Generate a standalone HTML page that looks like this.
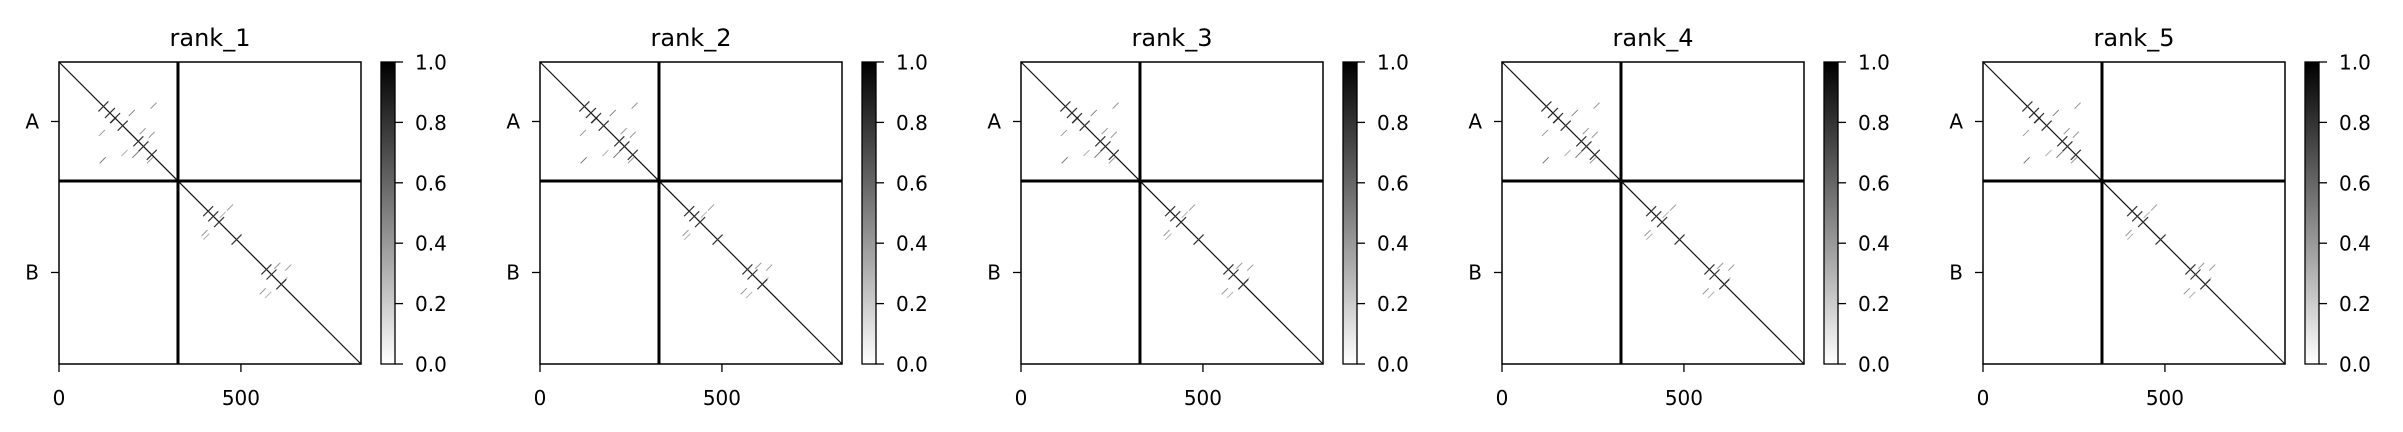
<!DOCTYPE html>
<html><head><meta charset="utf-8"><style>
html,body{margin:0;padding:0;background:#fff;}
svg{display:block;font-family:"DejaVu Sans","Liberation Sans",sans-serif;}
</style></head><body>
<svg id="fig" width="2403" height="432" viewBox="0 0 2403 432" xmlns="http://www.w3.org/2000/svg">
<defs><linearGradient id="cb" x1="0" y1="1" x2="0" y2="0"><stop offset="0" stop-color="#fff"/><stop offset="1" stop-color="#000"/></linearGradient></defs>
</svg>
<script>
const titles = ["rank_1","rank_2","rank_3","rank_4","rank_5"];
const seqLen = 830;
const chainSplit = 327;
const chainLabels = ["A","B"];
const xTicks = [0,500];
const cbTicks = [0.0,0.2,0.4,0.6,0.8,1.0];
const crossPos = [122,140,154,175,218,232,255,410,424,440,488,570,584,611];
const offContacts = [[118,195,0.4],[150,160,0.5],[200,140,0.5],[255,200,0.4],[210,255,0.5],[250,270,0.4],[120,270,0.5],[260,120,0.4],[180,250,0.3],[230,190,0.4],[400,470,0.4],[470,400,0.4],[405,480,0.3],[450,420,0.3],[560,630,0.4],[630,565,0.4],[600,560,0.4],[575,640,0.3],[620,600,0.3]];

const NS="http://www.w3.org/2000/svg";
const svg=document.getElementById('fig');
function mk(tag,attrs,parent){const e=document.createElementNS(NS,tag);for(const k in attrs)e.setAttribute(k,attrs[k]);(parent||svg).appendChild(e);return e;}
const AX0=59, AY0=62, AW=302, AH=302, STEP=481, CBX=381, CBW=14;

titles.forEach((t,i)=>{
  const ox=AX0+i*STEP;
  const xs=v=>ox+v/seqLen*AW;
  const ys=v=>AY0+v/seqLen*AH;
  const g=mk('g',{});
  
  
  const ti=mk('text',{x:ox+AW/2,y:46,'font-size':24,'text-anchor':'middle',fill:'#000'},g);
  ti.textContent=t;
  
  
  const hm=mk('g',{},g);
  
  
  mk('rect',{x:ox,y:AY0,width:AW,height:AH,fill:'#fff'},hm);
  mk('line',{x1:xs(0),y1:ys(0),x2:xs(seqLen),y2:ys(seqLen),stroke:'#111','stroke-width':1.2},hm);
  crossPos.forEach(p=>{
    const c=mk('line',{x1:xs(p)-5,y1:ys(p)+5,x2:xs(p)+5,y2:ys(p)-5,stroke:'#333','stroke-width':1.2},hm);
    
    
  });
  offContacts.forEach(c=>{
    const l=mk('line',{x1:xs(c[0])-3,y1:ys(c[1])+3,x2:xs(c[0])+3,y2:ys(c[1])-3,stroke:'#000','stroke-opacity':c[2],'stroke-width':1},hm);
    
    
  });
  mk('line',{x1:xs(chainSplit),y1:AY0,x2:xs(chainSplit),y2:AY0+AH,stroke:'#000','stroke-width':3},hm);
  mk('line',{x1:ox,y1:ys(chainSplit),x2:ox+AW,y2:ys(chainSplit),stroke:'#000','stroke-width':3},hm);
  mk('rect',{x:ox,y:AY0,width:AW,height:AH,fill:'none',stroke:'#000','stroke-width':1.5},g);
  const mids=[chainSplit/2,(chainSplit+seqLen)/2];
  chainLabels.forEach((lab,k)=>{
    mk('line',{x1:ox-8,y1:ys(mids[k]),x2:ox,y2:ys(mids[k]),stroke:'#000','stroke-width':1.3},g);
    const tx=mk('text',{x:ox-20,y:ys(mids[k])+7,'font-size':20,'text-anchor':'end'},g);
    tx.textContent=lab;
    
    
  });
  xTicks.forEach(v=>{
    mk('line',{x1:xs(v),y1:AY0+AH,x2:xs(v),y2:AY0+AH+8,stroke:'#000','stroke-width':1.3},g);
    const tx=mk('text',{x:xs(v),y:405,'font-size':20,'text-anchor':'middle'},g);
    tx.textContent=String(v);
    
    
  });
  const cx=ox+(CBX-AX0);
  const cb=mk('g',{},g);
  
  
  mk('rect',{x:cx,y:AY0,width:CBW,height:AH,fill:'url(#cb)',stroke:'#000','stroke-width':1.3},cb);
  cbTicks.forEach(v=>{
    const y=AY0+(1-v)*AH;
    mk('line',{x1:cx+CBW,y1:y,x2:cx+CBW+8,y2:y,stroke:'#000','stroke-width':1.3},cb);
    const tx=mk('text',{x:cx+CBW+20,y:y+7.5,'font-size':20},cb);
    tx.textContent=v.toFixed(1);
    
    
  });
});
</script>
</body></html>
